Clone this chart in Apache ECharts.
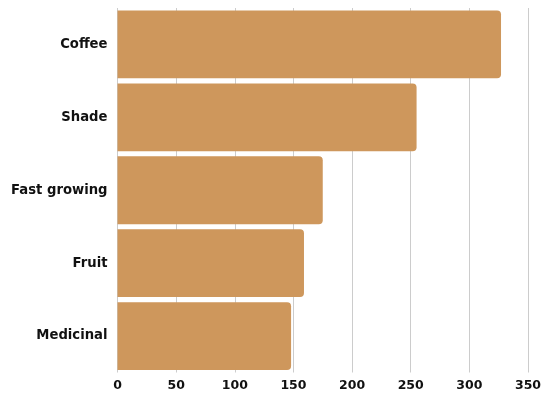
<!DOCTYPE html>
<html>
<head>
<meta charset="utf-8">
<script src="https://cdn.jsdelivr.net/npm/echarts@6/dist/echarts.min.js"></script>
<style>
  html, body { margin: 0; padding: 0; background: #fff; }
  #chart { width: 550px; height: 394px; }
</style>
</head>
<body>
<div id="chart"></div>
<script>
var categories = ['Coffee', 'Shade', 'Fast growing', 'Fruit', 'Medicinal'];
var counts = [327, 255, 175, 159, 148];
var xTicks = [0, 50, 100, 150, 200, 250, 300, 350];

var chart = echarts.init(document.getElementById('chart'));
var labelFont = {
    color: '#111',
    fontFamily: 'DejaVu Sans',
    fontWeight: 'bold',
    fontSize: 12
};

chart.setOption({
    animation: false,
    grid: {
        left: 117.5,
        right: 22,
        top: 8,
        bottom: 21.5,
        containLabel: false
    },
    xAxis: {
        type: 'value',
        min: xTicks[0],
        max: xTicks[xTicks.length - 1],
        interval: 50,
        axisLine: { show: false },
        axisTick: { show: false },
        splitLine: { lineStyle: { color: '#cccccc', width: 1 } },
        axisLabel: Object.assign({ margin: 7 }, labelFont, { fontSize: 12.5 })
    },
    yAxis: {
        type: 'category',
        inverse: true,
        data: categories,
        axisLine: { show: false },
        axisTick: { show: false },
        axisLabel: Object.assign({ margin: 10 }, labelFont, { fontSize: 13.2 })
    },
    series: [{
        type: 'bar',
        data: counts,
        barCategoryGap: '7%',
        itemStyle: {
            color: '#CE975C',
            borderRadius: [0, 4, 4, 0]
        }
    }]
});
</script>
</body>
</html>
